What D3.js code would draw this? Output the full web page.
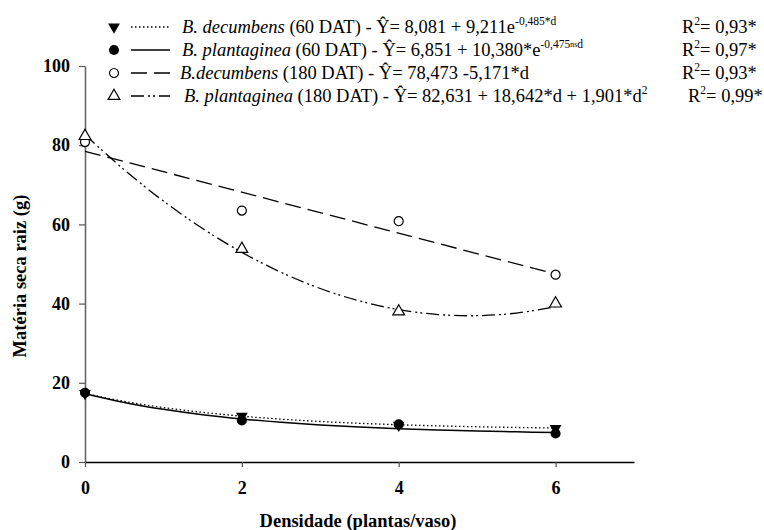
<!DOCTYPE html>
<html><head><meta charset="utf-8">
<script src="https://cdn.jsdelivr.net/npm/d3@7"></script>
<style>body{margin:0;background:#fff}svg{display:block}text{font-family:"Liberation Serif","Times New Roman",serif}</style>
</head><body><svg id="c" width="764" height="530"></svg>
<script>
// ---- data ----
const densities = [0, 2, 4, 6];
const decumbens60 = [17.3, 11.6, 9.3, 8.5];
const plantaginea60 = [17.5, 10.5, 9.5, 7.2];
const decumbens180 = [80.8, 63.5, 60.8, 47.3];
const plantaginea180 = [82.3, 53.8, 38.0, 40.0];
// fitted curves
const fitD = [0, 0.5, 1, 1.5, 2, 2.5, 3, 3.5, 4, 4.5, 5, 5.5, 6];
const fitDecumbens60 = [17.29, 15.31, 13.75, 12.53, 11.57, 10.82, 10.23, 9.77, 9.41, 9.12, 8.90, 8.72, 8.58];
const fitPlantaginea60 = [17.23, 15.04, 13.31, 11.94, 10.87, 10.02, 9.35, 8.82, 8.40, 8.08, 7.82, 7.61, 7.45];
const fitLinD = [0, 6];
const fitDecumbens180 = [78.47, 47.45];
const fitPlantaginea180 = [82.63, 73.79, 65.89, 58.95, 52.95, 47.91, 43.81, 40.67, 38.48, 37.24, 36.95, 37.61, 39.22];
const xTicks = [0, 2, 4, 6];
const yTicks = [0, 20, 40, 60, 80, 100];

const FONT = '"Liberation Serif","Times New Roman","DejaVu Serif",serif';
const svg = d3.select("#c");
const x = d3.scaleLinear().domain([0, 7]).range([85, 634]);
const y = d3.scaleLinear().domain([0, 100]).range([462, 66]);

// axes
const ya = svg.append("g").attr("transform", "translate(85,0)")
  .call(d3.axisLeft(y).tickValues(yTicks).tickFormat(d3.format("d")).tickSize(6).tickSizeOuter(0).tickPadding(9))
  .attr("font-family", FONT);
ya.select(".domain").attr("stroke", "#666").attr("stroke-width", 1.6);
ya.selectAll(".tick line").attr("stroke", "#555").attr("stroke-width", 1.2);
ya.selectAll("text").attr("font-size", 18).attr("font-weight", "bold").attr("fill", "#000");

const xa = svg.append("g").attr("transform", "translate(0,462)")
  .call(d3.axisBottom(x).tickValues(xTicks).tickFormat(d3.format("d")).tickSize(5).tickSizeOuter(0).tickPadding(14))
  .attr("font-family", FONT);
xa.select(".domain").attr("stroke", "#000").attr("stroke-width", 1.5);
xa.selectAll(".tick line").attr("stroke", "#555").attr("stroke-width", 1.2);
xa.selectAll("text").attr("font-size", 18).attr("font-weight", "bold").attr("fill", "#000");

svg.append("text").attr("x", 358).attr("y", 527).attr("text-anchor", "middle").attr("font-family", FONT)
  .attr("font-size", 18.5).attr("font-weight", "bold").text("Densidade (plantas/vaso)");
svg.append("text").attr("transform", "translate(26,276) rotate(-90)").attr("text-anchor", "middle").attr("font-family", FONT)
  .attr("font-size", 18.5).attr("font-weight", "bold").text("Matéria seca raiz (g)");

// styles
const styles = {
  d60: { dash: "1.5,2.5", w: 1.3 },
  p60: { dash: null, w: 1.5 },
  d180: { dash: "16,7", w: 1.3 },
  p180: { dash: "13,4,2,3,2,4", w: 1.3 }
};

const curve = (xs, ys, c) => d3.line().x((d, i) => x(xs[i])).y(d => y(d)).curve(c)(ys);
function drawFit(xs, ys, st) {
  svg.append("path").attr("d", curve(xs, ys, d3.curveCatmullRom))
    .attr("fill", "none").attr("stroke", "#000").attr("stroke-width", st.w)
    .attr("stroke-dasharray", st.dash);
}
drawFit(fitD, fitDecumbens60, styles.d60);
drawFit(fitD, fitPlantaginea60, styles.p60);
drawFit(fitLinD, fitDecumbens180, styles.d180);
drawFit(fitD, fitPlantaginea180, styles.p180);

const sym = {
  triDown: d3.symbol().type(d3.symbolTriangle).size(60),
  circle: d3.symbol().type(d3.symbolCircle).size(80),
  ocircle: d3.symbol().type(d3.symbolCircle).size(64),
  tri: d3.symbol().type(d3.symbolTriangle).size(60)
};
function marker(g, cx, cy, kind) {
  const p = g.append("path").attr("transform", `translate(${cx},${cy})` + (kind === "triDown" ? " rotate(180)" : ""))
    .attr("d", sym[kind]());
  if (kind === "triDown" || kind === "circle") p.attr("fill", "#000");
  else p.attr("fill", "#fff").attr("stroke", "#000").attr("stroke-width", 1.2);
}
const pts = svg.append("g");
const sets = [[decumbens180, "ocircle"], [plantaginea180, "tri"], [plantaginea60, "circle"], [decumbens60, "triDown"]];
sets.forEach(([vals, k]) => vals.forEach((v, i) => marker(pts, x(densities[i]), y(v), k)));

// legend
const legend = [
  { k: "triDown", st: styles.d60, sp: "B. decumbens", dat: " (60 DAT) - ", eq: [["= 8,081 + 9,211e", 0], ["-0,485*d", 1]], r2: "0,93*", rx: 682, tx: 182 },
  { k: "circle", st: styles.p60, sp: "B. plantaginea", dat: " (60 DAT) - ", eq: [["= 6,851 + 10,380*e", 0], ["-0,475", 1], ["ns", 2], ["d", 1]], r2: "0,97*", rx: 682, tx: 182 },
  { k: "ocircle", st: styles.d180, sp: "B.decumbens", dat: " (180 DAT) - ", eq: [["= 78,473 -5,171*d", 0]], r2: "0,93*", rx: 682, tx: 180 },
  { k: "tri", st: styles.p180, sp: "B. plantaginea", dat: " (180 DAT) - ", eq: [["= 82,631 + 18,642*d + 1,901*d", 0], ["2", 1]], r2: "0,99*", rx: 688, tx: 184 }
];
const rowY = [27, 50, 73, 96];
legend.forEach((L, i) => {
  const g = svg.append("g");
  const cy = rowY[i];
  marker(g, 114, cy, L.k);
  g.append("line").attr("x1", 131).attr("x2", 170).attr("y1", cy).attr("y2", cy)
    .attr("stroke", "#000").attr("stroke-width", L.st.w).attr("stroke-dasharray", L.st.dash);
  const t = g.append("text").attr("x", L.tx).attr("y", cy + 6).attr("font-size", 18.5).attr("font-family", FONT);
  t.append("tspan").attr("font-style", "italic").text(L.sp);
  t.append("tspan").text(L.dat + "Y\u0302");
  L.eq.forEach(([s, sup]) => {
    const ts = t.append("tspan").text(s);
    if (sup === 1) ts.attr("font-size", 11.5).attr("baseline-shift", "70%");
    else if (sup === 2) ts.attr("font-size", 8).attr("baseline-shift", "110%");
  });
  const r = g.append("text").attr("x", L.rx).attr("y", cy + 6).attr("font-size", 18.5).attr("font-family", FONT);
  r.append("tspan").text("R");
  r.append("tspan").attr("font-size", 11.5).attr("baseline-shift", "70%").text("2");
  r.append("tspan").text("= " + L.r2);
});
</script></body></html>
